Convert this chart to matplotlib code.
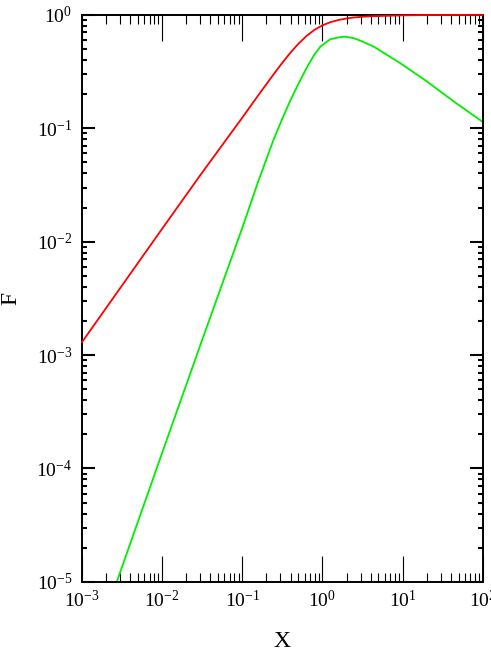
import numpy as np
import matplotlib
matplotlib.use('Agg')
import matplotlib.pyplot as plt
from matplotlib.ticker import LogLocator, LogFormatterMathtext, NullFormatter

plt.rcParams['font.family'] = ['Liberation Serif', 'DejaVu Serif']
plt.rcParams['mathtext.fontset'] = 'custom'
plt.rcParams['mathtext.rm'] = 'Liberation Serif'

# values
red_x = [0.001, 0.01, 0.0316, 0.1, 0.158, 0.1995, 0.2512, 0.3162, 0.3981, 0.5012,
         0.631, 0.7943, 1.0, 1.259, 1.585, 1.995, 2.512, 3.162, 3.981, 6.31,
         10.0, 19.95, 100.0]
red_f = [0.0013, 0.013, 0.0407, 0.124, 0.195, 0.2443, 0.3055, 0.3784, 0.4634, 0.5559,
         0.650, 0.738, 0.809, 0.863, 0.9016, 0.9301, 0.9502, 0.9638, 0.9727, 0.9822,
         0.9908, 0.9977, 1.0]

green_x = [0.001, 0.01, 0.0316, 0.1, 0.158, 0.246, 0.316, 0.398, 0.501, 0.644, 0.794,
           0.944, 1.1, 1.26, 1.6, 1.94, 2.45, 2.985, 4.38, 9.44, 20.3, 43.8, 100.0]
green_f = [1.34e-6, 1.37e-4, 1.36e-3, 0.0132, 0.0339, 0.0794, 0.1216, 0.176, 0.2455, 0.347, 0.447,
           0.525, 0.571, 0.61, 0.634, 0.643, 0.624, 0.592, 0.525, 0.374, 0.258, 0.172, 0.114]

x_lim = (1e-3, 1e2)
y_lim = (1e-5, 1e0)

fig = plt.figure(figsize=(4.91, 6.54), dpi=100)
ax = fig.add_axes([0.167, 0.1104, 0.816, 0.8668])

ax.plot(red_x, red_f, color='#ff0000', lw=1.3, clip_on=False, zorder=5)
ax.plot(green_x, green_f, color='#00ee00', lw=1.3)

ax.set_xscale('log')
ax.set_yscale('log')
ax.set_xlim(*x_lim)
ax.set_ylim(*y_lim)

for axis in (ax.xaxis, ax.yaxis):
    axis.set_major_locator(LogLocator(base=10, numticks=10))
    axis.set_minor_locator(LogLocator(base=10, subs=np.arange(2, 10), numticks=10))
    axis.set_major_formatter(LogFormatterMathtext())
    axis.set_minor_formatter(NullFormatter())

ax.tick_params(which='both', direction='in', top=True, right=True, labelsize=14, color='black')
ax.tick_params(axis='x', which='major', length=19, width=0.8, pad=6)
ax.tick_params(axis='x', which='minor', length=6.5, width=0.8)
ax.tick_params(axis='y', which='major', length=9.5, width=1.5, pad=7)
ax.tick_params(axis='y', which='minor', length=3.6, width=1.5)

for s in ax.spines.values():
    s.set_linewidth(1.4)

ax.set_xlabel('X', fontsize=17, labelpad=14)
ax.set_ylabel('F', fontsize=17)
ax.yaxis.set_label_coords(-0.152, 0.5)

fig.savefig('out.png', dpi=100)
